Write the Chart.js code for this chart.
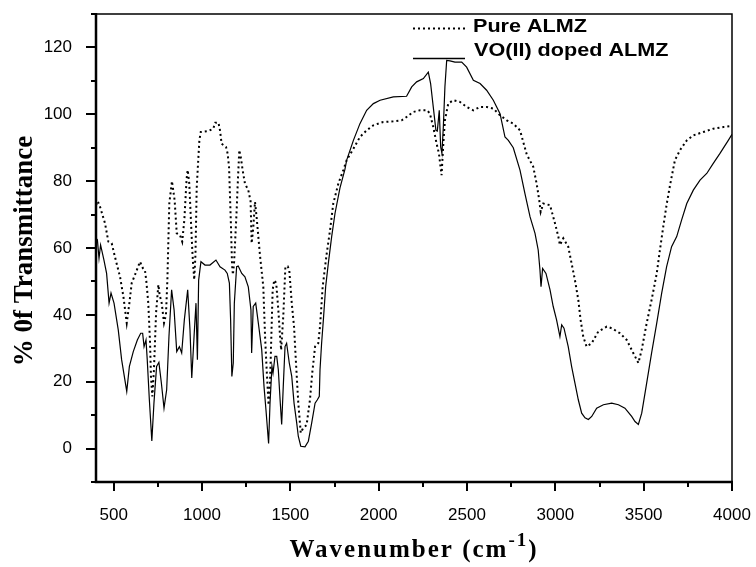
<!DOCTYPE html>
<html>
<head>
<meta charset="utf-8">
<script src="https://cdn.jsdelivr.net/npm/chart.js@4.4.0/dist/chart.umd.min.js"></script>
<style>
html,body{margin:0;padding:0;background:#fff;}
#wrap{position:relative;width:756px;height:567px;}
canvas{display:block;}
</style>
</head>
<body>
<div id="wrap"><canvas id="c" width="756" height="567"></canvas></div>
<script>
// ---- data ----
const seriesNames = ['Pure ALMZ', 'VO(II) doped ALMZ'];

const pureWavenumber = [400,410,423,451,470,489,507,536,555,574,589,602,621,649,665,677,685,696,706,711,719,728,740,753,760,772,785,796,804,815,830,845,857,875,888,900,913,919,928,935,945,950,956,963,970,985,993,1036,1064,1075,1093,1102,1111,1136,1145,1153,1158,1164,1170,1175,1182,1195,1203,1211,1220,1230,1243,1262,1275,1281,1290,1300,1309,1328,1347,1357,1366,1377,1385,1400,1409,1420,1432,1442,1448,1460,1472,1485,1494,1508,1521,1532,1545,1559,1573,1592,1611,1624,1640,1658,1668,1683,1706,1725,1743,1772,1800,1819,1857,1894,1932,1970,2026,2083,2130,2158,2196,2234,2275,2290,2309,2328,2341,2356,2366,2375,2394,2422,2460,2498,2536,2574,2611,2649,2687,2725,2762,2800,2838,2875,2894,2909,2917,2932,2970,2998,3017,3026,3045,3073,3092,3111,3130,3143,3158,3177,3206,3243,3291,3319,3366,3404,3441,3470,3489,3517,3545,3574,3592,3611,3630,3650,3677,3706,3744,3781,3838,3894,3951,4000];
const pureTransmittance = [72.8,74,72.3,67.4,61.9,61.4,57.4,51.4,45.5,37.6,43.5,49.5,52,55.9,54,53.4,50,43.5,31.6,21.6,15.6,23.6,40.6,49,46,43.5,37.6,40,50.4,73.4,80,74.3,64.4,63.9,61.9,68.4,80.8,83.3,79.3,71,59.4,55,50.5,58,78,92.2,94.7,95,95.7,97.5,97.5,95.2,91.2,90.2,88.3,84.3,76.3,66.4,55,52,56,70,80,89.3,87,83.3,79.3,77.3,74,61.4,66,73.8,69.3,57.9,48.4,33.5,23.6,13,19.7,47.5,50.4,49.5,41.5,33.5,29.5,39.5,54.4,54.5,53.4,43.5,36.5,25.6,13.7,4.7,6.2,7,14.6,22.6,30.5,31.5,36.5,48.4,58.4,65.4,73.3,79.3,83.3,86.3,89.7,93.2,95.2,96.7,97.7,97.9,98.2,99.2,100.7,101.2,101.2,100.2,96.2,91.2,88.3,81.8,91.2,98.2,103.2,104.2,103.7,102.2,101.2,102.2,102.2,101.7,99.7,98.2,97.2,95.2,88,84.3,79.3,74.3,70.8,73.3,72.8,67.4,63.4,60.9,62.9,60.4,55.4,50.4,44.5,38.5,33.5,30.5,31.5,35,36.5,36,34.5,32.5,28.6,25.6,29.6,37.5,44.5,52.4,59.4,66.4,73,79,86.3,89.3,92.2,93.7,94.7,95.7,96.2,96.5];

const dopedWavenumber = [400,408,417,426,445,460,474,485,502,526,545,574,589,611,634,653,664,672,683,690,702,716,728,743,756,770,785,800,813,828,842,857,872,885,900,919,932,942,955,966,974,981,994,1017,1045,1079,1102,1130,1143,1155,1162,1169,1177,1183,1196,1205,1225,1243,1262,1277,1281,1290,1304,1319,1338,1351,1362,1377,1385,1396,1402,1413,1423,1432,1442,1451,1460,1470,1479,1494,1508,1521,1536,1545,1559,1583,1602,1621,1640,1653,1664,1668,1677,1687,1700,1715,1734,1753,1781,1809,1819,1857,1894,1932,1970,2008,2083,2158,2187,2215,2253,2281,2294,2309,2324,2332,2343,2351,2358,2366,2375,2385,2404,2432,2470,2498,2536,2574,2611,2649,2687,2715,2734,2762,2800,2828,2857,2885,2903,2913,2919,2928,2947,2970,2988,3007,3026,3036,3049,3073,3092,3111,3130,3149,3168,3187,3206,3234,3272,3319,3357,3394,3432,3451,3470,3489,3517,3545,3574,3602,3630,3658,3687,3715,3744,3781,3819,3857,3894,3932,3979,4000];
const dopedTransmittance = [61.9,62.4,56.9,60.9,56.4,52.4,43.5,46.5,43.5,35.5,26.6,17.1,24.6,29,32.5,34.5,34.5,30.5,32.5,26.6,14.6,2.3,13.6,24.6,25.8,19.6,12.1,17.6,33.5,47.5,41.5,29,30.5,28.6,38.5,47.5,35.5,21.1,33.5,43.5,26.6,50.4,55.9,54.9,54.9,56.4,54.4,53.4,52.4,49.5,38.5,21.6,25.6,43.5,54.4,54.6,52.4,51.4,48.4,41.5,28.6,42.5,43.5,37.5,29.6,18.6,11.6,1.5,13.6,24.6,22.6,27.6,27.6,23.6,14.6,7.2,18.6,30.5,31.5,25.6,21.6,13.6,7.7,3.7,0.7,0.5,2.2,7.7,13.6,14.6,15.6,23.6,31.5,38.5,48.4,55.4,63.4,70.4,78,83.5,86.3,92.2,97.2,101.2,103.2,104.2,105.2,105.4,108.2,109.7,110.7,112.6,109.2,102.2,95.2,95,101.2,90.2,88.3,96.2,108.2,116.1,116,115.6,115.6,114.1,110.2,109.2,107.2,104.2,100.2,93.2,92.2,90,83.3,76.3,69.3,64.4,59.4,53.4,48.4,53.9,52.4,47.5,42.5,38.5,33.5,37,36,30.5,24.6,19.6,14.6,10.6,9.2,8.7,9.6,12.1,13.1,13.6,13.1,12.1,9.6,8.1,7.2,10.6,19.6,28.6,37.5,46.5,54.4,60.4,63.4,68.4,73.3,77.3,80.3,82.3,85.3,88.3,92.2,94];

const xTickLabels = [500,1000,1500,2000,2500,3000,3500,4000];
const yTickLabels = [0,20,40,60,80,100,120];
const xRange = [400, 4000];
const yRange = [-10, 130];

// ---- build ----
function pairs(xs, ys){ return xs.map((v,i)=>({x:v, y:ys[i]})); }

const framePlugin = {
  id: 'frame',
  afterDraw(chart){
    const {ctx, chartArea:a, scales:{x, y}} = chart;
    ctx.save();
    ctx.strokeStyle = '#000';
    ctx.fillStyle = '#000';
    ctx.setLineDash([]);
    // thin top/right frame
    ctx.lineWidth = 1.5;
    ctx.beginPath();
    ctx.moveTo(a.left, a.top); ctx.lineTo(a.right, a.top); ctx.lineTo(a.right, a.bottom);
    ctx.stroke();
    // thick axes
    ctx.lineWidth = 2.5;
    ctx.beginPath();
    ctx.moveTo(a.left, a.top - 1); ctx.lineTo(a.left, a.bottom); ctx.lineTo(a.right + 1, a.bottom);
    ctx.stroke();
    // ticks (major at labels, minor at midpoints)
    ctx.lineWidth = 2;
    const xStep = xTickLabels[1] - xTickLabels[0];
    for (let v = xTickLabels[0]; v <= xRange[1] + 0.1; v += xStep/2){
      const px = Math.round(x.getPixelForValue(v));
      const major = xTickLabels.includes(v);
      ctx.beginPath(); ctx.moveTo(px, a.bottom); ctx.lineTo(px, a.bottom + (major ? 9 : 5)); ctx.stroke();
    }
    const yStep = yTickLabels[1] - yTickLabels[0];
    for (let v = yRange[0]; v <= yRange[1] + 0.1; v += yStep/2){
      const py = Math.round(y.getPixelForValue(v));
      const major = yTickLabels.includes(v);
      ctx.beginPath(); ctx.moveTo(a.left, py); ctx.lineTo(a.left - (major ? 10 : 5), py); ctx.stroke();
    }
    // legend
    const ds = chart.data.datasets;
    const legendRows = [
      {lineY: Math.round(a.top + 14) + 0.5, textY: a.top + 13, x0: 413, x1: 467, tx: 473, lw: 2},
      {lineY: Math.round(a.top + 44) + 0.5, textY: a.top + 37, x0: 413, x1: 465, tx: 474, lw: 1.3}
    ];
    legendRows.forEach((r, i) => {
      ctx.save();
      ctx.lineWidth = r.lw;
      ctx.setLineDash(ds[i].borderDash || []);
      ctx.beginPath(); ctx.moveTo(r.x0, r.lineY); ctx.lineTo(r.x1, r.lineY); ctx.stroke();
      ctx.restore();
      ctx.save();
      ctx.font = "bold 18px 'Liberation Sans', Arial, sans-serif";
      ctx.textBaseline = 'middle';
      ctx.translate(r.tx, r.textY);
      ctx.scale(1.2, 1);
      ctx.fillText(ds[i].label, 0, 0);
      ctx.restore();
    });
    // x axis title with superscript
    ctx.save();
    ctx.textBaseline = 'alphabetic';
    const mainFont = "bold 25px 'Liberation Serif', 'Times New Roman', serif";
    const supFont = "bold 19px 'Liberation Serif', 'Times New Roman', serif";
    ctx.letterSpacing = '2px';
    ctx.font = mainFont; const t1 = 'Wavenumber (cm'; const w1 = ctx.measureText(t1).width;
    ctx.font = supFont; const t2 = '-1'; const w2 = ctx.measureText(t2).width;
    ctx.font = mainFont; const t3 = ')'; const w3 = ctx.measureText(t3).width;
    const total = w1 + w2 + w3;
    let cx = (a.left + a.right)/2 - total/2;
    const base = 557;
    ctx.font = mainFont; ctx.fillText(t1, cx, base); cx += w1;
    ctx.font = supFont; ctx.fillText(t2, cx, base - 11); cx += w2;
    ctx.font = mainFont; ctx.fillText(t3, cx, base);
    ctx.restore();
    // y axis title
    ctx.save();
    ctx.font = "bold 27px 'Liberation Serif', 'Times New Roman', serif";
    ctx.textAlign = 'center';
    ctx.textBaseline = 'middle';
    ctx.translate(25, 251);
    ctx.rotate(-Math.PI/2);
    ctx.fillText('% 0f Transmittance', 0, 0);
    ctx.restore();
    ctx.restore();
  }
};

const tickFont = {family: "'Liberation Sans', Arial, sans-serif", size: 17};

new Chart(document.getElementById('c'), {
  type: 'scatter',
  data: {
    datasets: [
      {
        label: seriesNames[0],
        data: pairs(pureWavenumber, pureTransmittance),
        showLine: true, pointRadius: 0, borderColor: '#000', borderWidth: 2,
        borderDash: [2, 3], borderCapStyle: 'butt', tension: 0, fill: false
      },
      {
        label: seriesNames[1],
        data: pairs(dopedWavenumber, dopedTransmittance),
        showLine: true, pointRadius: 0, borderColor: '#000', borderWidth: 1.2,
        tension: 0, fill: false
      }
    ]
  },
  options: {
    responsive: false, animation: false, devicePixelRatio: 1,
    layout: {padding: {top: 14, right: 24, left: 0, bottom: 0}},
    plugins: {legend: {display: false}, tooltip: {enabled: false}, title: {display: false}},
    scales: {
      x: {
        type: 'linear', min: xRange[0], max: xRange[1],
        afterBuildTicks: s => { s.ticks = xTickLabels.map(v => ({value: v})); },
        afterFit: s => { s.height = 85; s.paddingLeft = 0; s.paddingRight = 0; },
        ticks: {font: tickFont, color: '#000', padding: 15, maxRotation: 0, autoSkip: false,
                callback: v => String(v)},
        grid: {display: false}, border: {display: false}
      },
      y: {
        type: 'linear', min: yRange[0], max: yRange[1],
        afterBuildTicks: s => { s.ticks = yTickLabels.map(v => ({value: v})); },
        afterFit: s => { s.width = 96; s.paddingTop = 0; s.paddingBottom = 0; },
        ticks: {font: tickFont, color: '#000', padding: 16, autoSkip: false,
                callback: v => String(v)},
        grid: {display: false}, border: {display: false}
      }
    }
  },
  plugins: [framePlugin]
});
</script>
</body>
</html>
